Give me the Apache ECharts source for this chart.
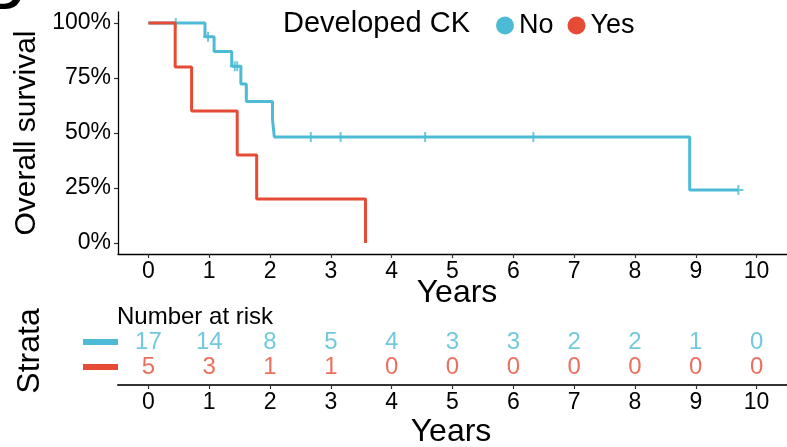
<!DOCTYPE html>
<html><head><meta charset="utf-8">
<script src="https://cdn.jsdelivr.net/npm/echarts@6/dist/echarts.min.js"></script>
<style>html,body{margin:0;padding:0;background:#fff}#c{width:787px;height:447px}</style>
</head><body><div id="c"></div>
<script>
const xTicks = [0,1,2,3,4,5,6,7,8,9,10];
const yTicks = [0,0.25,0.5,0.75,1];
const groups = ['No','Yes'];
const colors = ['#4DBBD5','#E64B35'];
const noCurve = [[0,1],[0.93,0.9375],[1.08,0.8705],[1.37,0.8036],[1.52,0.7232],[1.61,0.6429],[2.04,0.5625],[2.07,0.4821],[8.9,0.2411],[9.7,0.2411]];
const noCensored = [[0.45,1],[0.98,0.9375],[1.42,0.8036],[1.46,0.8036],[2.67,0.4821],[3.16,0.4821],[4.55,0.4821],[6.33,0.4821],[9.7,0.2411]];
const yesCurve = [[0,1],[0.44,0.8],[0.71,0.6],[1.46,0.4],[1.78,0.2],[3.57,0]];
const riskTimes = [0,1,2,3,4,5,6,7,8,9,10];
const riskNo = [17,14,8,5,4,3,3,2,2,1,0];
const riskYes = [5,3,1,1,0,0,0,0,0,0,0];

const FF = "'Liberation Sans', Arial, Helvetica, sans-serif";
const chart = echarts.init(document.getElementById('c'), null, {renderer:'canvas'});
const plus = 'path://M4,0L6,0L6,10L4,10Z M0,4L10,4L10,6L0,6Z';

function xAxisCfg(gi){
  return {
    type:'value', gridIndex:gi, min:-0.5, max:10.5,
    axisLine:{show:true, onZero:false, lineStyle:{color: gi===0?'#000':'#333', width: gi===0?1.3:2}},
    axisTick:{show:true, customValues:xTicks, length:4, lineStyle:{color:'#333', width:1.2}},
    axisLabel:{show:true, customValues:xTicks, fontSize:23, color:'#000', fontFamily:FF, margin:6},
    splitLine:{show:false}
  };
}

chart.setOption({
  animation:false,
  backgroundColor:'#fff',
  grid:[
    {left:118, top:12, width:670, height:242},
    {left:118, top:317, width:670, height:68}
  ],
  xAxis:[xAxisCfg(0), xAxisCfg(1)],
  yAxis:[
    {type:'value', gridIndex:0, min:-0.05, max:1.05,
     axisLine:{show:true, onZero:false, lineStyle:{color:'#000', width:1.3}},
     axisTick:{show:true, customValues:yTicks, length:4, lineStyle:{color:'#333', width:1.2}},
     axisLabel:{show:true, customValues:yTicks, fontSize:23, color:'#000', fontFamily:FF, margin:7,
       formatter:v=>Math.round(v*100)+'%'},
     splitLine:{show:false}},
    {type:'value', gridIndex:1, min:0.28, max:3.0, show:false}
  ],
  legend:{
    data:groups.map(g=>({name:g, icon:'circle'})),
    left:496, top:12, padding:0, itemWidth:18, itemHeight:18, itemGap:14,
    textStyle:{fontSize:27, color:'#000', fontFamily:FF},
    selectedMode:false
  },
  series:[
    {name:'No', type:'line', xAxisIndex:0, yAxisIndex:0, step:'end', data:noCurve,
     showSymbol:false, symbol:'none', color:colors[0], lineStyle:{width:3, color:colors[0]}},
    {name:'No censored', type:'scatter', xAxisIndex:0, yAxisIndex:0, data:noCensored,
     symbol:plus, symbolSize:10, itemStyle:{color:colors[0]}},
    {name:'Yes', type:'line', xAxisIndex:0, yAxisIndex:0, step:'end', data:yesCurve,
     showSymbol:false, symbol:'none', color:colors[1], lineStyle:{width:3, color:colors[1]}},
    {name:'riskNo', type:'scatter', xAxisIndex:1, yAxisIndex:1,
     data:riskTimes.map((t,i)=>[t,2,riskNo[i]]), symbolSize:1, itemStyle:{color:'rgba(0,0,0,0)'},
     label:{show:true, position:'inside', formatter:p=>String(p.value[2]), fontSize:24, color:colors[0], fontFamily:FF}},
    {name:'riskYes', type:'scatter', xAxisIndex:1, yAxisIndex:1,
     data:riskTimes.map((t,i)=>[t,1,riskYes[i]]), symbolSize:1, itemStyle:{color:'rgba(0,0,0,0)'},
     label:{show:true, position:'inside', formatter:p=>String(p.value[2]), fontSize:24, color:colors[1], fontFamily:FF}}
  ],
  graphic:[
    {type:'text', x:-11, y:-4, style:{text:'D', fontSize:48, fontWeight:'bold', fontFamily:FF, fill:'#000', align:'left', verticalAlign:'middle'}},
    {type:'text', x:283, y:24, style:{text:'Developed CK', fontSize:29, fontFamily:FF, fill:'#000', align:'left', verticalAlign:'middle'}},
    {type:'text', x:27, y:133, rotation:Math.PI/2, style:{text:'Overall survival', fontSize:30, fontFamily:FF, fill:'#000', align:'center', verticalAlign:'middle'}},
    {type:'text', x:457, y:293, style:{text:'Years', fontSize:32, fontFamily:FF, fill:'#000', align:'center', verticalAlign:'middle'}},
    {type:'text', x:117, y:317, style:{text:'Number at risk', fontSize:24, fontFamily:FF, fill:'#000', align:'left', verticalAlign:'middle'}},
    {type:'text', x:30, y:351, rotation:Math.PI/2, style:{text:'Strata', fontSize:32, fontFamily:FF, fill:'#000', align:'center', verticalAlign:'middle'}},
    {type:'rect', shape:{x:83, y:339, width:35, height:6}, style:{fill:colors[0]}},
    {type:'rect', shape:{x:83, y:364, width:35, height:6}, style:{fill:colors[1]}},
    {type:'text', x:451, y:432, style:{text:'Years', fontSize:32, fontFamily:FF, fill:'#000', align:'center', verticalAlign:'middle'}}
  ]
});
</script>
</body></html>
